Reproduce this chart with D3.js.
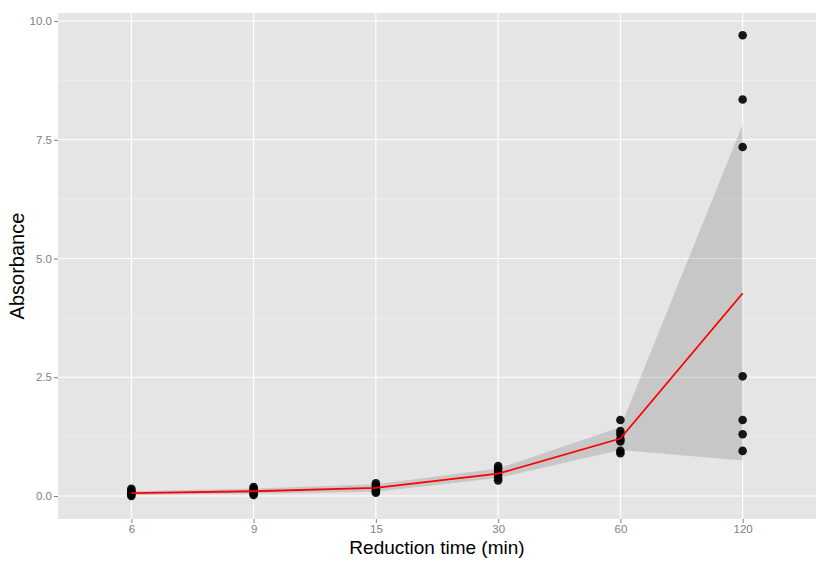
<!DOCTYPE html>
<html><head><meta charset="utf-8">
<script src="https://cdn.jsdelivr.net/npm/d3@7"></script>
<style>body{margin:0;background:#fff}svg{display:block;font-family:"Liberation Sans",Arial,sans-serif}</style>
</head><body><svg id="c" width="830" height="562"></svg>
<script>
const categories = ["6","9","15","30","60","120"];
const points6 = [0.0, 0.03, 0.06, 0.09, 0.12, 0.15];
const points9 = [0.02, 0.05, 0.08, 0.12, 0.15, 0.19];
const points15 = [0.07, 0.10, 0.14, 0.18, 0.22, 0.27];
const points30 = [0.33, 0.38, 0.45, 0.52, 0.58, 0.63];
const points60 = [0.90, 0.95, 1.15, 1.20, 1.30, 1.37, 1.60];
const points120 = [0.95, 1.30, 1.60, 2.52, 7.35, 8.35, 9.70];
const meanLine = [0.06, 0.10, 0.17, 0.47, 1.21, 4.27];
const ribbonLow = [0.02, 0.05, 0.09, 0.38, 0.97, 0.75];
const ribbonHigh = [0.10, 0.16, 0.25, 0.58, 1.45, 7.82];
const yTicks = [0, 2.5, 5, 7.5, 10];
const yMinor = [1.25, 3.75, 6.25, 8.75];

const groups = [points6, points9, points15, points30, points60, points120];
const svg = d3.select("#c");
const L = 58, R = 816, T = 13, B = 519;

const x = d3.scalePoint().domain(categories).range([L, R]).padding(0.6);
const y = d3.scaleLinear().domain([-0.484, 10.17]).range([B, T]);

svg.append("rect").attr("x", L).attr("y", T).attr("width", R - L).attr("height", B - T).attr("fill", "#e5e5e5");

svg.selectAll(".ymin").data(yMinor).enter().append("line")
  .attr("x1", L).attr("x2", R).attr("y1", d => y(d)).attr("y2", d => y(d))
  .attr("stroke", "#f2f2f2").attr("stroke-width", 0.6);
svg.selectAll(".ymaj").data(yTicks).enter().append("line")
  .attr("x1", L).attr("x2", R).attr("y1", d => y(d)).attr("y2", d => y(d))
  .attr("stroke", "#ffffff").attr("stroke-width", 1.1);
svg.selectAll(".xmaj").data(categories).enter().append("line")
  .attr("y1", T).attr("y2", B).attr("x1", d => x(d)).attr("x2", d => x(d))
  .attr("stroke", "#ffffff").attr("stroke-width", 1.1);

// ribbon
const area = d3.area().x((d, i) => x(categories[i])).y0((d, i) => y(ribbonLow[i])).y1((d, i) => y(ribbonHigh[i]));
svg.append("path").datum(categories).attr("d", area).attr("fill", "#000").attr("fill-opacity", 0.13);

// points
groups.forEach((g, i) => {
  svg.selectAll(".p" + i).data(g).enter().append("circle")
    .attr("cx", x(categories[i])).attr("cy", d => y(d)).attr("r", 4.3)
    .attr("fill", "#000").attr("fill-opacity", 0.9);
});

// mean line
const line = d3.line().x((d, i) => x(categories[i])).y(d => y(d));
svg.append("path").datum(meanLine).attr("d", line).attr("fill", "none").attr("stroke", "#ff0000").attr("stroke-width", 1.8);

// axes
const yAxis = svg.append("g").attr("transform", `translate(${L},0)`)
  .call(d3.axisLeft(y).tickValues(yTicks).tickFormat(d3.format(".1f")).tickSize(4).tickPadding(2));
const xAxis = svg.append("g").attr("transform", `translate(0,${B})`)
  .call(d3.axisBottom(x).tickSize(4).tickPadding(2));
[yAxis, xAxis].forEach(a => {
  a.select(".domain").remove();
  a.selectAll(".tick line").attr("stroke", "#7f7f7f");
  a.selectAll(".tick text").attr("fill", "#7f7f7f").style("font-size", "11.5px").style("font-family", "'Liberation Sans',Arial,sans-serif");
});

svg.append("text").attr("x", (L + R) / 2).attr("y", 554).attr("text-anchor", "middle")
  .style("font-size", "19px").attr("fill", "#000").text("Reduction time (min)");
svg.append("text").attr("transform", `translate(24,${(T + B) / 2}) rotate(-90)`).attr("text-anchor", "middle")
  .style("font-size", "20px").attr("fill", "#000").text("Absorbance");
</script></body></html>
